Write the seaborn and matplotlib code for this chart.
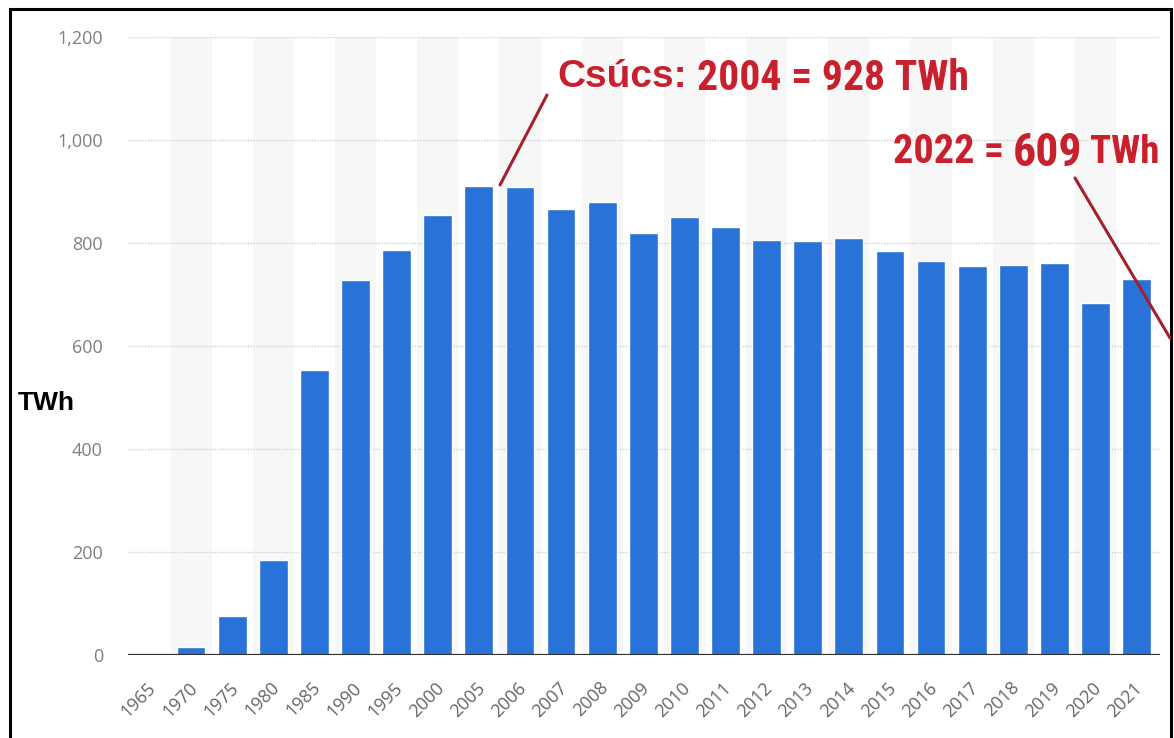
import matplotlib
matplotlib.use("Agg")
import matplotlib.pyplot as plt
from matplotlib.patches import Rectangle
from matplotlib.lines import Line2D
from matplotlib.transforms import ScaledTranslation
import seaborn as sns
import pandas as pd

years = ["1965", "1970", "1975", "1980", "1985", "1990", "1995", "2000", "2005", "2006",
         "2007", "2008", "2009", "2010", "2011", "2012", "2013", "2014", "2015", "2016",
         "2017", "2018", "2019", "2020", "2021"]
twh = [0, 15, 76, 185, 553, 728, 787, 854, 910, 908,
       866, 879, 819, 851, 832, 806, 803, 810, 784, 765,
       755, 758, 762, 683, 730]
y_ticks = [0, 200, 400, 600, 800, 1000, 1200]

df = pd.DataFrame({"year": years, "twh": twh})

sns.set_style("white")
plt.rcParams["font.family"] = ["Open Sans", "DejaVu Sans"]

W, H = 1174, 738
fig = plt.figure(figsize=(W / 100, H / 100), dpi=100)
ax = fig.add_axes([128 / W, 1 - 655 / H, (1160 - 128) / W, (655 - 37) / H])

# alternating background stripes
for i in range(len(years)):
    if i % 2 == 1:
        ax.axvspan(i - 0.5, i + 0.5, color="#f7f7f7", zorder=0, lw=0)

sns.barplot(data=df, x="year", y="twh", color="#2872d8", saturation=1,
            width=0.7, ax=ax, zorder=3)

ax.set_ylim(0, 1200)
ax.set_xlim(-0.535, len(years) - 1 + 0.57)
ax.set_yticks(y_ticks)
ax.set_yticklabels([f"{v:,}" for v in y_ticks])
for v in y_ticks[1:]:
    ax.axhline(v, color="#d0d0d0", lw=1.0, ls=(0, (1, 1)), zorder=1)
ax.axhline(0, color="#333333", lw=1.6, zorder=4)

for s in ax.spines.values():
    s.set_visible(False)
ax.set_xlabel("")
ax.set_ylabel("")
ax.tick_params(axis="y", length=0, pad=18, labelsize=13, labelcolor="#808080")
ax.tick_params(axis="x", length=0, pad=17, labelsize=13, labelcolor="#666666")
shift = ScaledTranslation(-3 / 100, 0, fig.dpi_scale_trans)
for lab in ax.get_xticklabels():
    lab.set_rotation(45)
    lab.set_ha("right")
    lab.set_rotation_mode("anchor")
    lab.set_transform(lab.get_transform() + shift)

fig.text(18 / W, 1 - 410 / H, "TWh", fontsize=19, fontweight="bold",
         color="black", family=["Liberation Sans", "DejaVu Sans"])

red = "#c9202e"
narrow = ["Roboto Condensed", "Open Sans Condensed", "DejaVu Sans"]
fig.text(557 / W, 1 - 87 / H, "Csúcs:", fontsize=28, fontweight="bold",
         color=red, family=["Liberation Sans", "DejaVu Sans"], va="baseline")
fig.text(697 / W, 1 - 90 / H, "2004 = 928 TWh", fontsize=30, fontweight="bold",
         color=red, family=narrow, va="baseline")
fig.text(893 / W, 1 - 163 / H, "2022 =", fontsize=29, fontweight="bold",
         color=red, family=narrow, va="baseline")
fig.text(1013 / W, 1 - 166 / H, "609", fontsize=33, fontweight="bold",
         color=red, family=narrow, va="baseline")
fig.text(1090 / W, 1 - 163 / H, "TWh", fontsize=28, fontweight="bold",
         color=red, family=narrow, va="baseline")

line_red = "#a3202c"
fig.add_artist(Line2D([547 / W, 500 / W], [1 - 95 / H, 1 - 185 / H],
                      color=line_red, lw=2.2))
fig.add_artist(Line2D([1075 / W, 1170 / W], [1 - 178 / H, 1 - 338 / H],
                      color=line_red, lw=2.2))

# outer frame
fig.add_artist(Rectangle((10 / W, -0.02), (1171 - 10) / W, 1.02 - 9 / H,
                         transform=fig.transFigure, fill=False,
                         edgecolor="black", lw=2.2))

fig.savefig("out.png", dpi=100)
